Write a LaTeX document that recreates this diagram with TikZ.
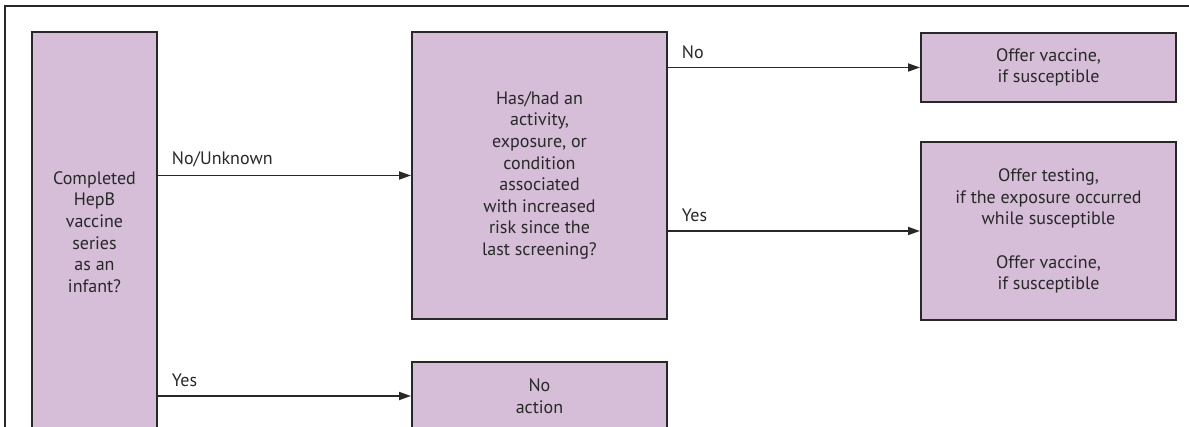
\documentclass[tikz,border=0pt]{standalone}
\usepackage{fontspec}
\setmainfont{PT Sans}
\usetikzlibrary{arrows.meta,positioning}
\definecolor{lila}{RGB}{214,189,216}
\definecolor{rand}{RGB}{40,40,40}

\begin{document}
\begin{tikzpicture}[x=0.5pt,y=-0.5pt,
kasten/.style={draw=rand,line width=1pt,fill=lila,align=center,text=rand,font=\fontsize{9}{10.8}\selectfont,minimum width=127.5pt,inner sep=0pt},
pil/.style={draw=rand,line width=0.9pt,-{Triangle[length=6pt,width=4pt]}},
etikett/.style={text=rand,font=\fontsize{9}{10.8}\selectfont,inner sep=0pt}]
\useasboundingbox (0,0) rectangle (1189,427);
\draw[rand,line width=1pt] (5,460) -- (5,6) -- (1220,6);
\node[kasten,minimum width=62.5pt,minimum height=200pt] (inf) at (94.5,232) {Completed\\HepB\\vaccine\\series\\as an\\infant?};
\node[kasten,minimum height=143.5pt] (risk) at (539.5,175.5) {Has/had an\\activity,\\exposure, or\\condition\\associated\\with increased\\risk since the\\last screening?};
\node[kasten,minimum height=34pt] (noact) at (539.5,396) {No\\action};
\node[kasten,minimum height=34.5pt] (vacc) at (1048.5,67.5) {Offer vaccine,\\if susceptible};
\node[kasten,minimum height=89pt] (test) at (1048.5,231) {Offer testing,\\if the exposure occurred\\while susceptible\\[10.8pt]Offer vaccine,\\if susceptible};
\foreach \a/\b/\t in {inf/risk/{No/Unknown},inf/noact/Yes,risk/vacc/No,risk/test/Yes}{\draw[pil] (\a.east |- \b.west) -- node[etikett,pos=0,anchor=south west,xshift=6.5pt,yshift=4pt] {\t} (\b.west);}
\end{tikzpicture}
\end{document}
